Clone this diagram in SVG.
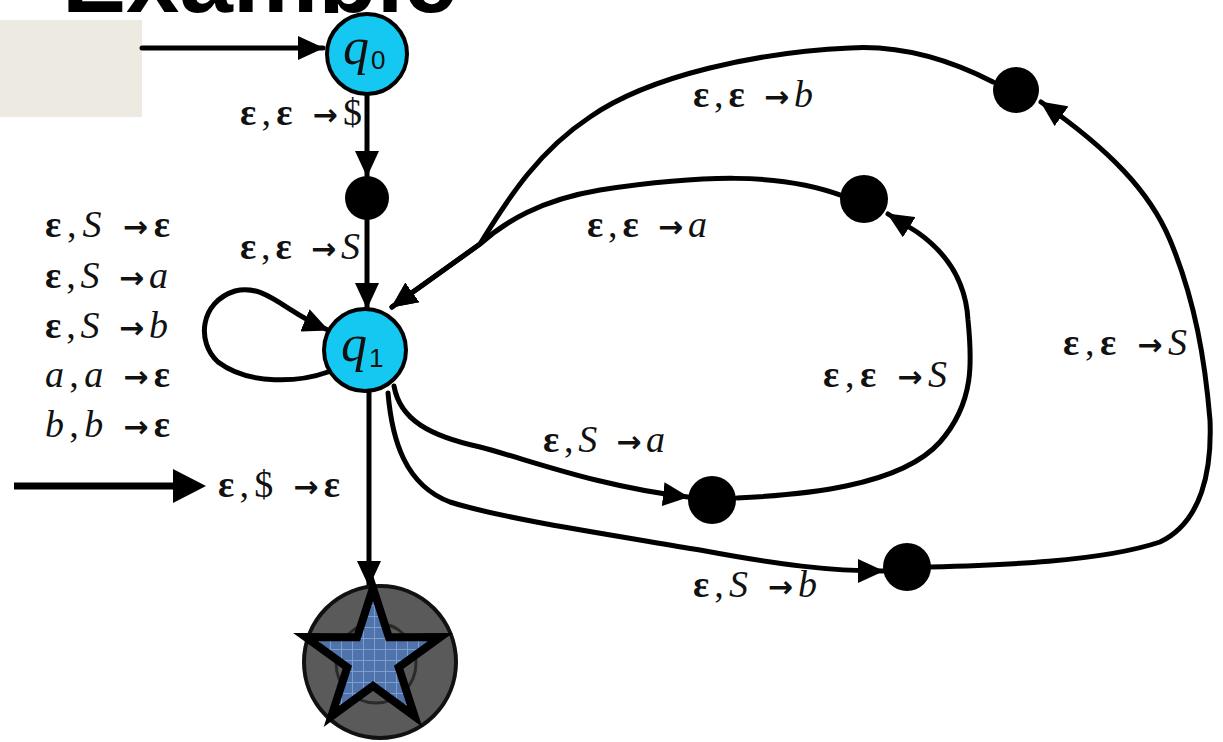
<svg xmlns="http://www.w3.org/2000/svg" width="1223" height="742" viewBox="0 0 1223 742">
<style>
.lbl{font-family:"Liberation Serif","DejaVu Serif",serif;font-size:38px;fill:#111}
.e{font-weight:bold}
.i{font-style:italic}
.ar{font-family:"DejaVu Sans",sans-serif;font-size:30px;font-weight:bold}
.edge{fill:none;stroke:#000;stroke-width:5;stroke-linejoin:round;stroke-linecap:round}
.state{fill:#14c8f2;stroke:#000;stroke-width:4}
.dot{fill:#000}
.q{font-family:"Liberation Serif","DejaVu Serif",serif;font-style:italic;font-size:52px;fill:#111}
.sub{font-family:"Liberation Sans",sans-serif;font-size:26px;fill:#111}
</style>
<defs>
<marker id="ah" viewBox="0 0 26 24" refX="25" refY="12" markerWidth="26" markerHeight="24" markerUnits="userSpaceOnUse" orient="auto">
<path d="M0,0 L26,12 L0,24 Z" fill="#000"/>
</marker>
<pattern id="grid" width="11" height="11" patternUnits="userSpaceOnUse">
<rect width="11" height="11" fill="#4f73aa"/>
<path d="M0,0.5 H11 M0.5,0 V11" stroke="#7b9fd0" stroke-width="1"/>
</pattern>
</defs>
<rect width="1223" height="742" fill="#fff"/>
<text x="62" y="12" font-family="Liberation Sans,sans-serif" font-weight="bold" font-size="96" fill="#000">Example</text>
<rect x="0" y="13" width="1223" height="729" fill="#fff"/>
<rect id="note" x="0" y="20" width="142" height="97" fill="#edeae1"/>

<g id="connectors">
<line class="edge" x1="142" y1="48" x2="323" y2="48" marker-end="url(#ah)"/>
<line class="edge" x1="367" y1="94" x2="367" y2="176" marker-end="url(#ah)"/>
<line class="edge" x1="367" y1="215" x2="367" y2="308" marker-end="url(#ah)"/>
<line class="edge" x1="369" y1="392" x2="369" y2="586" marker-end="url(#ah)"/>
<path class="edge" d="M328,372 C300,382 250,386 218,362 C196,342 200,302 235,291 C265,283 285,312 328,330" marker-end="url(#ah)"/>
<path class="edge" d="M394,386 C400,420 430,436 480,447 C530,460 600,487 688,497" marker-end="url(#ah)"/>
<path class="edge" d="M737,498 C800,495 900,487 940,442 C975,402 972,360 968,320 C966,285 950,255 917,232 L888,214" marker-end="url(#ah)"/>
<path class="edge" d="M843,196 C780,172 700,175 600,190 C540,200 505,222 480,244 L392,307" marker-end="url(#ah)"/>
<path class="edge" d="M388,393 C392,440 405,485 450,502 C500,518 600,533 700,550 C780,565 830,571 883,571" marker-end="url(#ah)"/>
<path class="edge" d="M930,567 C1000,565 1100,562 1160,542 C1202,522 1212,470 1210,420 C1205,360 1195,300 1170,240 C1150,192 1110,150 1041,102" marker-end="url(#ah)"/>
<path class="edge" d="M993,82 C950,60 900,45 850,48 C760,52 650,75 590,117 C540,150 510,195 480,244 L392,307" marker-end="url(#ah)"/>
<line x1="14" y1="486" x2="175" y2="486" stroke="#000" stroke-width="7"/>
<path d="M173,469 L206,486 L173,503 Z" fill="#000"/>
</g>

<g id="q0">
<circle class="state" cx="367" cy="54" r="40"/>
<text class="q" x="343" y="64">q</text><text class="sub" x="371" y="69">0</text>
</g>
<g id="q1">
<circle class="state" cx="365" cy="350" r="41"/>
<text class="q" x="341" y="361">q</text><text class="sub" x="369" y="367">1</text>
</g>
<g id="d0"><circle class="dot" cx="367" cy="198" r="22"/></g>
<g id="a1"><circle class="dot" cx="712" cy="500" r="24"/></g>
<g id="a2"><circle class="dot" cx="864" cy="199" r="24"/></g>
<g id="b1"><circle class="dot" cx="907" cy="567" r="24"/></g>
<g id="b2"><circle class="dot" cx="1016" cy="90" r="23"/></g>
<g id="q2">
<circle cx="380" cy="662" r="76" fill="#5a5a5a" stroke="#111" stroke-width="4"/>
<circle cx="376" cy="663" r="40" fill="none" stroke="#2a2a2a" stroke-width="3"/>
<polygon points="373,588 388.9,637.2 440.5,637.1 398.7,667.3 414.7,716.4 373,686 331.3,716.4 347.3,667.3 305.5,637.1 357.1,637.2" fill="url(#grid)" stroke="#000" stroke-width="8" stroke-linejoin="miter"/>
</g>

<g id="labels">
<text class="lbl" x="240" y="125" textLength="122" lengthAdjust="spacing"><tspan class="e">ε</tspan>,<tspan class="e">ε</tspan> <tspan class="ar">→</tspan>$</text>
<text class="lbl" x="240" y="259" textLength="120" lengthAdjust="spacing"><tspan class="e">ε</tspan>,<tspan class="e">ε</tspan> <tspan class="ar">→</tspan><tspan class="i">S</tspan></text>
<text class="lbl" x="45" y="237" textLength="125" lengthAdjust="spacing"><tspan class="e">ε</tspan>,<tspan class="i">S</tspan> <tspan class="ar">→</tspan><tspan class="e">ε</tspan></text>
<text class="lbl" x="45" y="288" textLength="123" lengthAdjust="spacing"><tspan class="e">ε</tspan>,<tspan class="i">S</tspan> <tspan class="ar">→</tspan><tspan class="i">a</tspan></text>
<text class="lbl" x="45" y="338" textLength="123" lengthAdjust="spacing"><tspan class="e">ε</tspan>,<tspan class="i">S</tspan> <tspan class="ar">→</tspan><tspan class="i">b</tspan></text>
<text class="lbl" x="45" y="387" textLength="125" lengthAdjust="spacing"><tspan class="i">a</tspan>,<tspan class="i">a</tspan> <tspan class="ar">→</tspan><tspan class="e">ε</tspan></text>
<text class="lbl" x="45" y="437" textLength="125" lengthAdjust="spacing"><tspan class="i">b</tspan>,<tspan class="i">b</tspan> <tspan class="ar">→</tspan><tspan class="e">ε</tspan></text>
<text class="lbl" x="218" y="497" textLength="122" lengthAdjust="spacing"><tspan class="e">ε</tspan>,$ <tspan class="ar">→</tspan><tspan class="e">ε</tspan></text>
<text class="lbl" x="693" y="107" textLength="120" lengthAdjust="spacing"><tspan class="e">ε</tspan>,<tspan class="e">ε</tspan> <tspan class="ar">→</tspan><tspan class="i">b</tspan></text>
<text class="lbl" x="587" y="237" textLength="120" lengthAdjust="spacing"><tspan class="e">ε</tspan>,<tspan class="e">ε</tspan> <tspan class="ar">→</tspan><tspan class="i">a</tspan></text>
<text class="lbl" x="823" y="387" textLength="124" lengthAdjust="spacing"><tspan class="e">ε</tspan>,<tspan class="e">ε</tspan> <tspan class="ar">→</tspan><tspan class="i">S</tspan></text>
<text class="lbl" x="1063" y="355" textLength="124" lengthAdjust="spacing"><tspan class="e">ε</tspan>,<tspan class="e">ε</tspan> <tspan class="ar">→</tspan><tspan class="i">S</tspan></text>
<text class="lbl" x="543" y="452" textLength="122" lengthAdjust="spacing"><tspan class="e">ε</tspan>,<tspan class="i">S</tspan> <tspan class="ar">→</tspan><tspan class="i">a</tspan></text>
<text class="lbl" x="693" y="597" textLength="124" lengthAdjust="spacing"><tspan class="e">ε</tspan>,<tspan class="i">S</tspan> <tspan class="ar">→</tspan><tspan class="i">b</tspan></text>
</g>
</svg>
